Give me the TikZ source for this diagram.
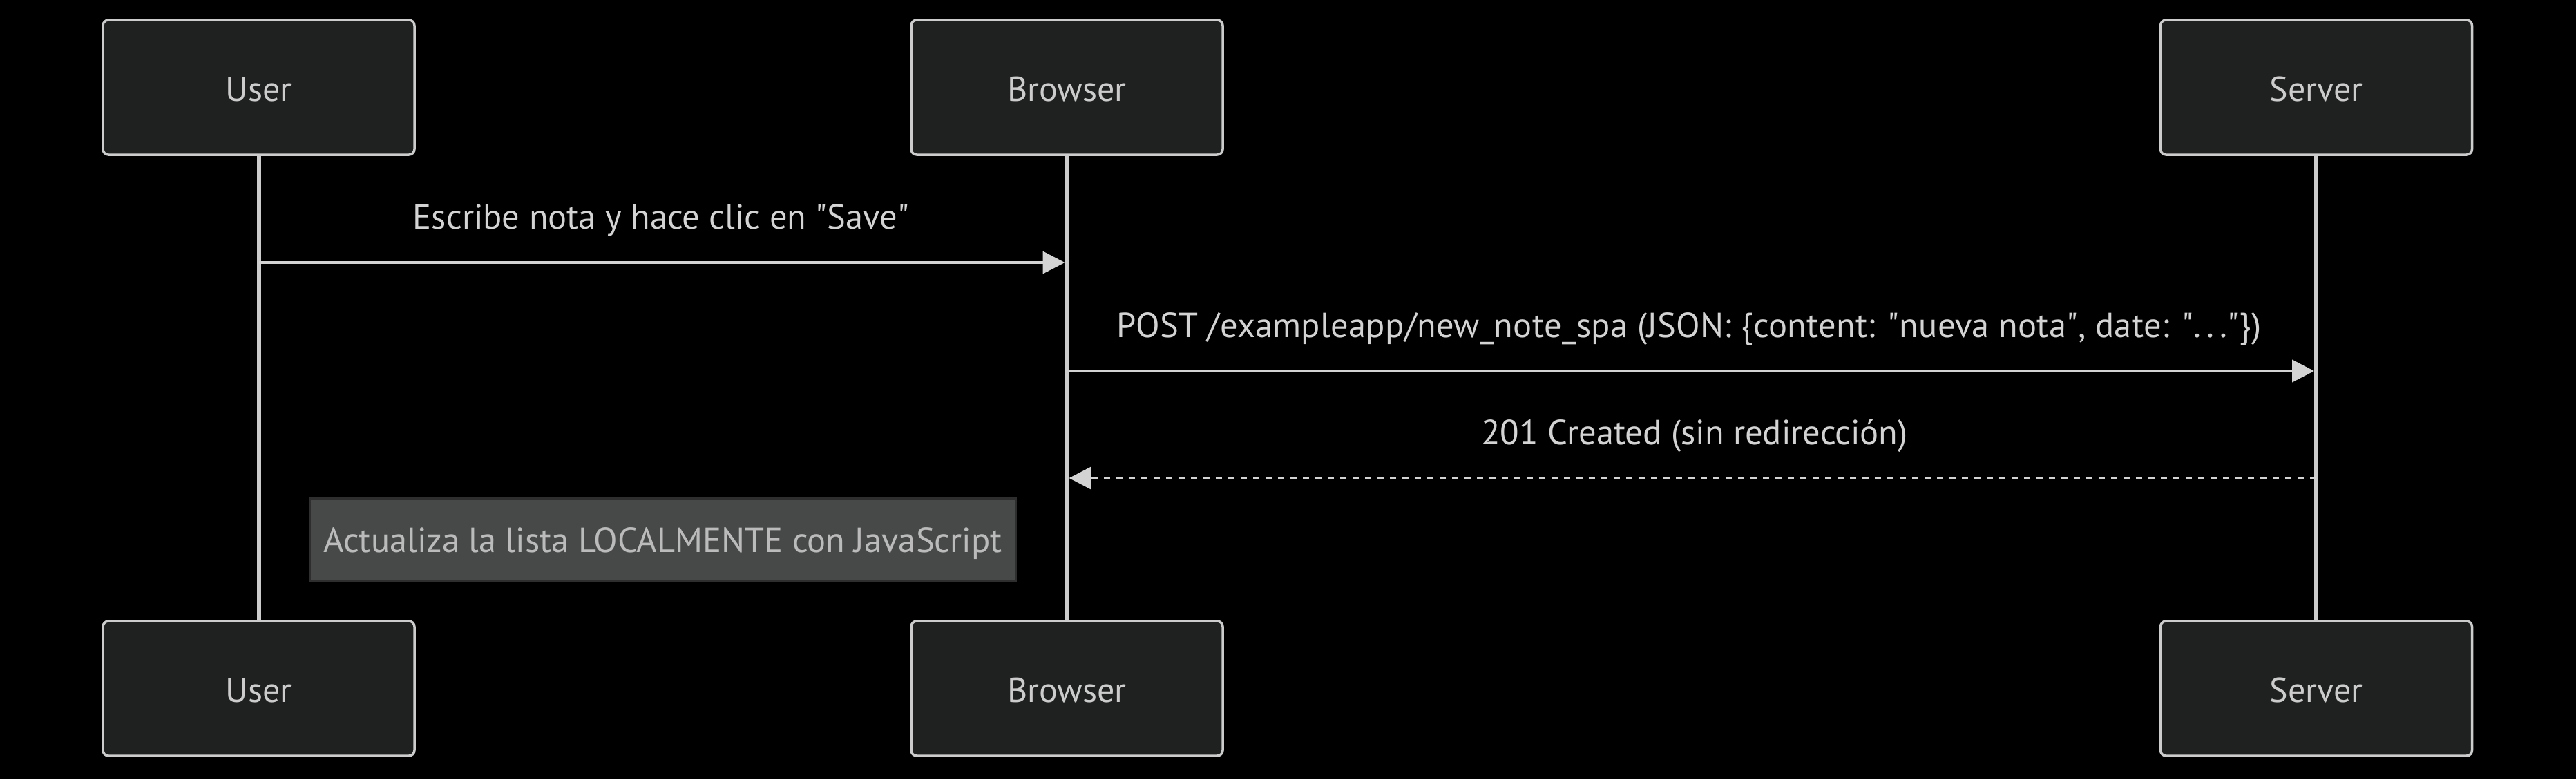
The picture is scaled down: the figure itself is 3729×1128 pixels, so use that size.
\documentclass[tikz,border=0pt]{standalone}
\usepackage{fontspec}
\setmainfont{PT Sans}
\usetikzlibrary{arrows.meta}
\definecolor{bg}{HTML}{000000}
\definecolor{actfill}{HTML}{1F2020}
\definecolor{actline}{HTML}{CCCCCC}
\definecolor{txt}{HTML}{D3D3D3}
\definecolor{notefill}{HTML}{474949}
\definecolor{noteline}{HTML}{2E2E2E}
\definecolor{notetxt}{HTML}{BBBBBB}
\newcommand{\qq}{\textquotedbl}
\tikzset{
  actor/.style={draw=actline, line width=3.5pt, fill=actfill, rounded corners=8pt,
    minimum width=451pt, minimum height=195pt, inner sep=0pt, text=actline,
    text height=40pt, text depth=0pt,
    font=\fontsize{50}{60}\selectfont},
  lifeline/.style={draw=actline, line width=6pt},
  msg/.style={draw=txt, line width=4pt, -{Triangle[length=32pt,width=32pt]}},
  reply/.style={msg, dash pattern=on 9pt off 9pt},
  msgtext/.style={text=txt, font=\fontsize{50.5}{60}\selectfont, inner sep=0pt},
  notebox/.style={draw=noteline, line width=3pt, fill=notefill, text=notetxt,
    minimum width=1022pt, minimum height=119pt, inner sep=0pt,
    text height=48pt, text depth=12pt,
    font=\fontsize{50.5}{60}\selectfont},
}
\begin{document}
\begin{tikzpicture}[x=1pt,y=-1pt]
\fill[bg] (0,0) rectangle (3729,1128);
\useasboundingbox (0,0) rectangle (3729,1128);
% top actors
\node[actor] (uT) at (374.5,126.5) {User};
\node[actor] (bT) at (1544.5,126.5) {Browser};
\node[actor] (sT) at (3353,126.5) {Server};
% bottom actors
\node[actor] (uB) at (374.5,996.5) {User};
\node[actor] (bB) at (1544.5,996.5) {Browser};
\node[actor] (sB) at (3353,996.5) {Server};
% lifelines
\draw[lifeline] (uT.south) -- (uB.north);
\draw[lifeline] (bT.south) -- (bB.north);
\draw[lifeline] (sT.south) -- (sB.north);
% message points
\coordinate (m1s) at (uT.south |- 0,380);
\coordinate (m1e) at ([xshift=-3pt]bT.south |- 0,380);
\coordinate (m2s) at ([xshift=3pt]bT.south |- 0,537);
\coordinate (m2e) at ([xshift=-3pt]sT.south |- 0,537);
\coordinate (m3s) at (sT.south |- 0,692);
\coordinate (m3e) at ([xshift=3pt]bT.south |- 0,692);
\draw[msg] (m1s) -- (m1e);
\draw[msg] (m2s) -- (m2e);
\draw[reply] (m3s) -- (m3e);
\node[msgtext] (t1) at (957,319) {Escribe nota y hace clic en \qq Save\qq};
\node[msgtext] (t2) at (2445,476) {\addfontfeature{LetterSpace=0.6}POST /exampleapp/new\_note\_spa (JSON: \{content: \qq nueva nota\qq, date: \qq.\,.\,.\qq\})};
\node[msgtext] (t3) at (2453,631) {201 Created (sin redirección)};
\node[notebox] (n1) at (959.5,781) {Actualiza la lista LOCALMENTE con JavaScript};
\end{tikzpicture}
\end{document}
